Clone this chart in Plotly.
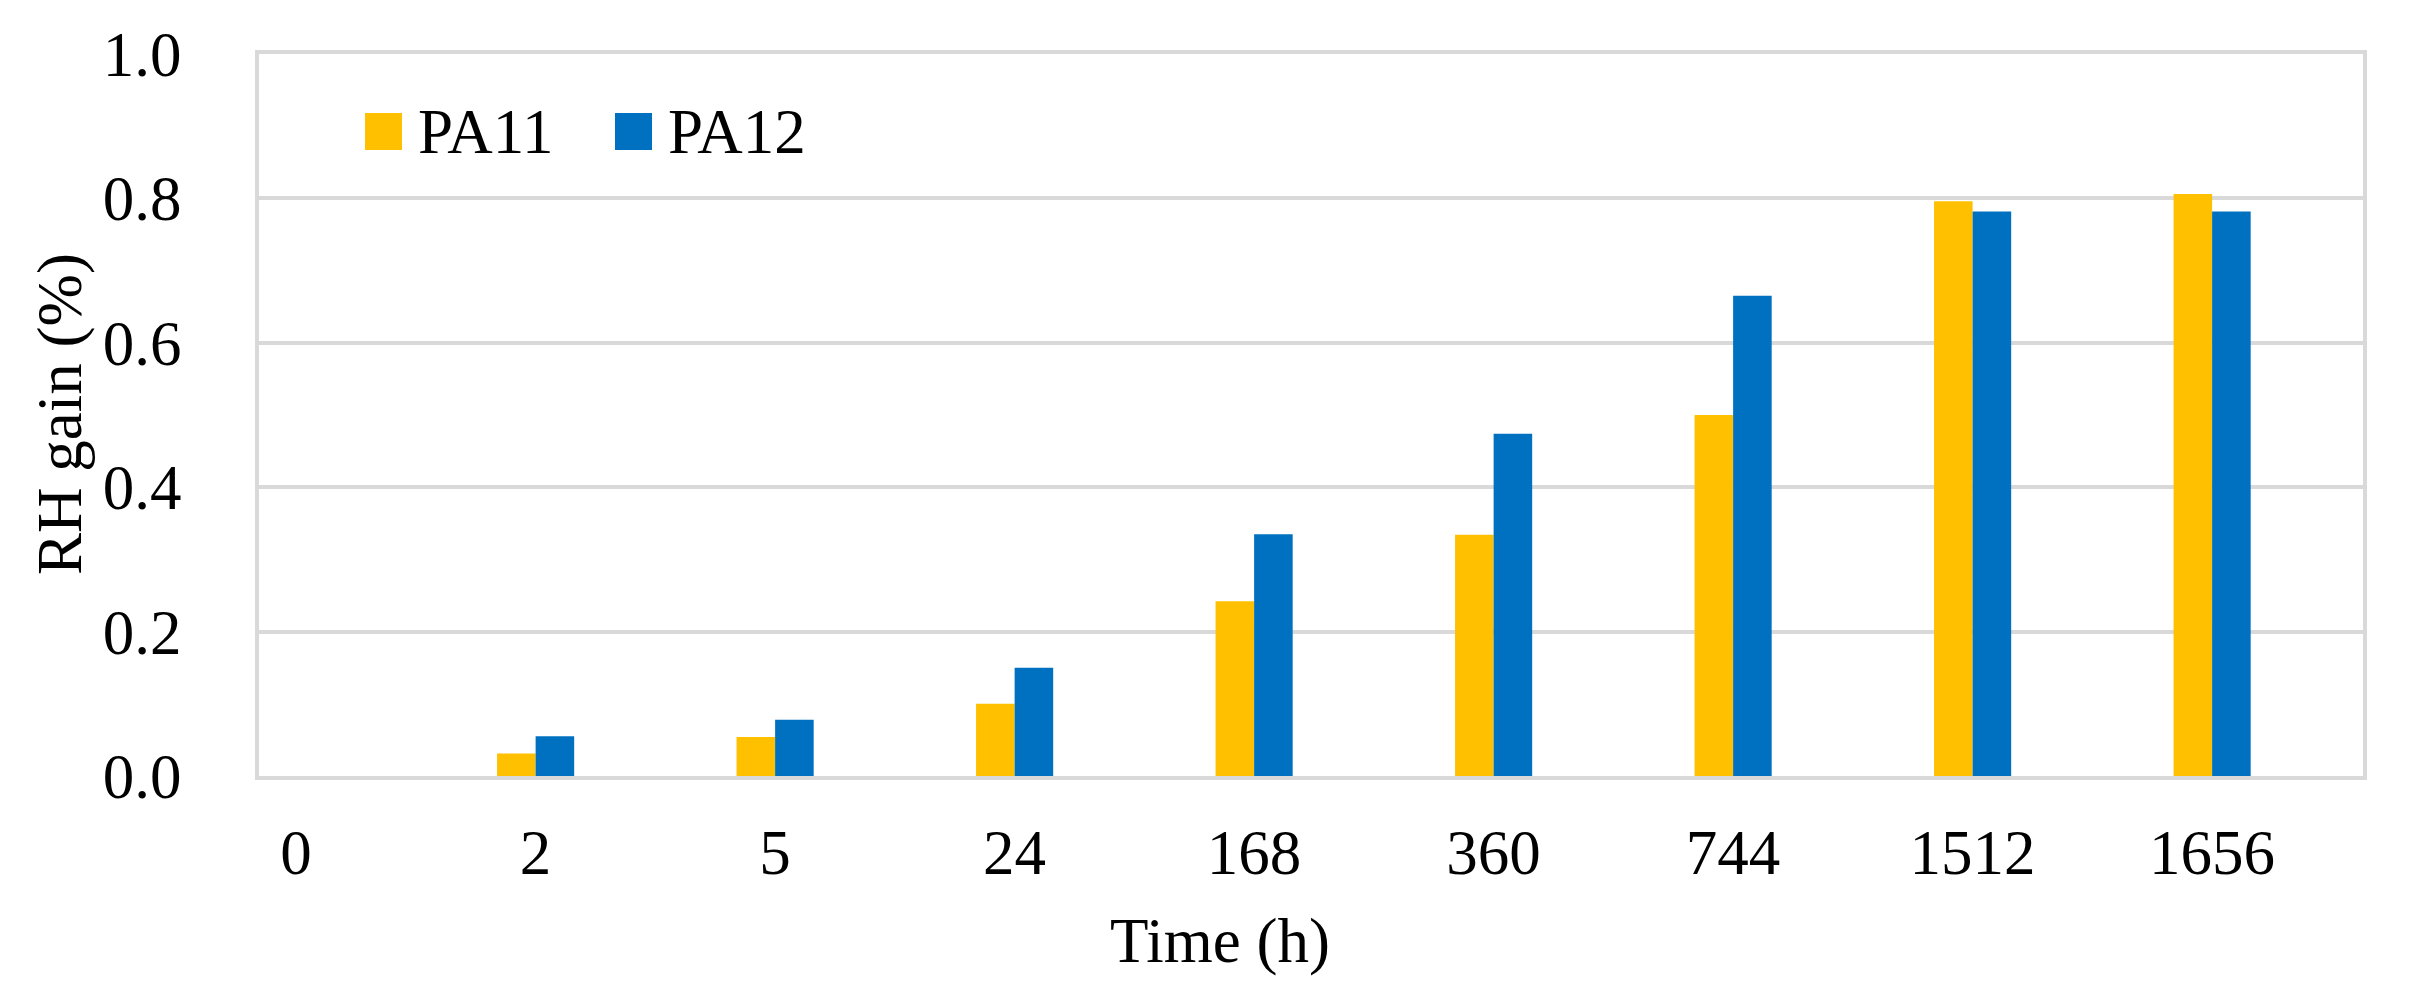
import plotly.graph_objects as go

# ---- data ----
categories = ["0", "2", "5", "24", "168", "360", "744", "1512", "1656"]
series_names = ["PA11", "PA12"]
pa11 = [0.0, 0.031, 0.054, 0.100, 0.242, 0.334, 0.500, 0.796, 0.806]
pa12 = [0.0, 0.055, 0.078, 0.150, 0.335, 0.474, 0.665, 0.782, 0.782]
y_ticks = [0.0, 0.2, 0.4, 0.6, 0.8, 1.0]
x_title = "Time (h)"
y_title = "RH gain (%)"

colors = ["#FFC000", "#0070C0"]
FONT = "Liberation Serif"
FS = 63
GRID = "#d9d9d9"

W, H = 2414, 997
L, R, T, B = 251, 59, 46, 229
pw, ph = W - L - R, H - T - B


def px2paper(x, y):
    return (x - L) / pw, (H - B - y) / ph


fig = go.Figure()
for name, vals, col in zip(series_names, [pa11, pa12], colors):
    fig.add_trace(go.Bar(x=categories, y=vals, name=name,
                         marker=dict(color=col, line=dict(width=0)),
                         showlegend=False))

# legend drawn as squares + real text labels
leg_sq = [(357, 394), (607, 644)]
leg_y = (105, 142)
shapes = []
annotations = []
for (x0, x1), name, col in zip(leg_sq, series_names, colors):
    px0, py0 = px2paper(x0, leg_y[1])
    px1, py1 = px2paper(x1, leg_y[0])
    shapes.append(dict(type="rect", xref="paper", yref="paper",
                       x0=px0, x1=px1, y0=py0, y1=py1,
                       fillcolor=col, line=dict(width=0)))
    tx, ty = px2paper(x1 + 14, (leg_y[0] + leg_y[1]) / 2)
    annotations.append(dict(text=name, xref="paper", yref="paper", x=tx, y=ty,
                            xanchor="left", yanchor="middle", showarrow=False,
                            font=dict(family=FONT, size=FS, color="black")))

# axis titles
ax, ay = px2paper(52, 406)
annotations.append(dict(text=y_title, xref="paper", yref="paper", x=ax, y=ay,
                        xanchor="center", yanchor="middle", textangle=-90,
                        showarrow=False, font=dict(family=FONT, size=FS, color="black")))
bx, by = px2paper(1212, 933)
annotations.append(dict(text=x_title, xref="paper", yref="paper", x=bx, y=by,
                        xanchor="center", yanchor="middle",
                        showarrow=False, font=dict(family=FONT, size=FS, color="black")))

fig.update_layout(
    width=W, height=H, autosize=False,
    margin=dict(l=L, r=R, t=T, b=B, pad=0),
    paper_bgcolor="white", plot_bgcolor="white",
    barmode="group", bargap=0.678, bargroupgap=0,
    font=dict(family=FONT, size=FS, color="black"),
    shapes=shapes, annotations=annotations,
    xaxis=dict(type="category", range=[-0.155, 8.63],
               showgrid=False, showline=True, linecolor=GRID, linewidth=4, mirror=True,
               ticks="outside", ticklen=18, tickcolor="rgba(0,0,0,0)",
               tickfont=dict(family=FONT, size=FS, color="black"), zeroline=False),
    yaxis=dict(range=[0, 1.0], tickvals=y_ticks, tickformat=".1f",
               showgrid=True, gridcolor=GRID, gridwidth=4,
               showline=True, linecolor=GRID, linewidth=4, mirror=True,
               ticks="outside", ticklen=61, tickcolor="rgba(0,0,0,0)",
               tickfont=dict(family=FONT, size=FS, color="black"), zeroline=False),
)

fig.write_html("out.html")
